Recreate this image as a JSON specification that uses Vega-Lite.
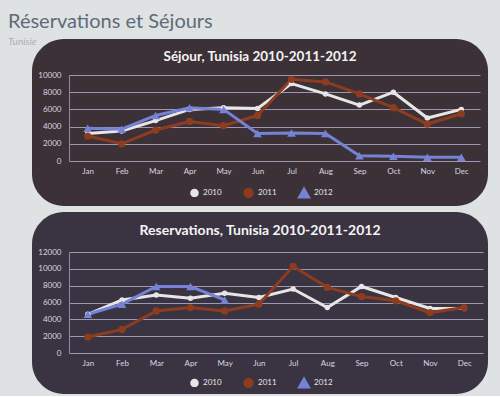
{
  "$schema": "https://vega.github.io/schema/vega-lite/v6.json",
  "background": "#dfe2e2",
  "padding": {"left": 8, "top": 12, "right": 12, "bottom": 2},
  "title": {
    "text": "Réservations et Séjours",
    "subtitle": "Tunisie",
    "anchor": "start",
    "dx": -24,
    "font": "Lato",
    "fontSize": 20,
    "fontWeight": "normal",
    "color": "#5d6b7a",
    "subtitleFont": "Lato",
    "subtitleFontSize": 10,
    "subtitleFontStyle": "italic",
    "subtitleColor": "#a9afb1",
    "subtitlePadding": 5,
    "offset": -8
  },
  "spacing": 6,
  "datasets": {
    "sejour": [
      {"month": "Jan", "year": "2010", "value": 3200}, {"month": "Feb", "year": "2010", "value": 3500},
      {"month": "Mar", "year": "2010", "value": 4700}, {"month": "Apr", "year": "2010", "value": 6000},
      {"month": "May", "year": "2010", "value": 6200}, {"month": "Jun", "year": "2010", "value": 6100},
      {"month": "Jul", "year": "2010", "value": 9000}, {"month": "Aug", "year": "2010", "value": 7800},
      {"month": "Sep", "year": "2010", "value": 6500}, {"month": "Oct", "year": "2010", "value": 8000},
      {"month": "Nov", "year": "2010", "value": 5000}, {"month": "Dec", "year": "2010", "value": 6000},
      {"month": "Jan", "year": "2011", "value": 2900}, {"month": "Feb", "year": "2011", "value": 2000},
      {"month": "Mar", "year": "2011", "value": 3600}, {"month": "Apr", "year": "2011", "value": 4600},
      {"month": "May", "year": "2011", "value": 4100}, {"month": "Jun", "year": "2011", "value": 5300},
      {"month": "Jul", "year": "2011", "value": 9500}, {"month": "Aug", "year": "2011", "value": 9200},
      {"month": "Sep", "year": "2011", "value": 7800}, {"month": "Oct", "year": "2011", "value": 6200},
      {"month": "Nov", "year": "2011", "value": 4300}, {"month": "Dec", "year": "2011", "value": 5500},
      {"month": "Jan", "year": "2012", "value": 3800}, {"month": "Feb", "year": "2012", "value": 3700},
      {"month": "Mar", "year": "2012", "value": 5300}, {"month": "Apr", "year": "2012", "value": 6200},
      {"month": "May", "year": "2012", "value": 6000}, {"month": "Jun", "year": "2012", "value": 3200},
      {"month": "Jul", "year": "2012", "value": 3250}, {"month": "Aug", "year": "2012", "value": 3200},
      {"month": "Sep", "year": "2012", "value": 600}, {"month": "Oct", "year": "2012", "value": 550},
      {"month": "Nov", "year": "2012", "value": 450}, {"month": "Dec", "year": "2012", "value": 450}
    ],
    "reserv": [
      {"month": "Jan", "year": "2010", "value": 4600}, {"month": "Feb", "year": "2010", "value": 6300},
      {"month": "Mar", "year": "2010", "value": 6900}, {"month": "Apr", "year": "2010", "value": 6500},
      {"month": "May", "year": "2010", "value": 7100}, {"month": "Jun", "year": "2010", "value": 6600},
      {"month": "Jul", "year": "2010", "value": 7600}, {"month": "Aug", "year": "2010", "value": 5400},
      {"month": "Sep", "year": "2010", "value": 7900}, {"month": "Oct", "year": "2010", "value": 6600},
      {"month": "Nov", "year": "2010", "value": 5300}, {"month": "Dec", "year": "2010", "value": 5300},
      {"month": "Jan", "year": "2011", "value": 1900}, {"month": "Feb", "year": "2011", "value": 2800},
      {"month": "Mar", "year": "2011", "value": 5000}, {"month": "Apr", "year": "2011", "value": 5400},
      {"month": "May", "year": "2011", "value": 5000}, {"month": "Jun", "year": "2011", "value": 5800},
      {"month": "Jul", "year": "2011", "value": 10300}, {"month": "Aug", "year": "2011", "value": 7800},
      {"month": "Sep", "year": "2011", "value": 6700}, {"month": "Oct", "year": "2011", "value": 6200},
      {"month": "Nov", "year": "2011", "value": 4800}, {"month": "Dec", "year": "2011", "value": 5400},
      {"month": "Jan", "year": "2012", "value": 4600}, {"month": "Feb", "year": "2012", "value": 5800},
      {"month": "Mar", "year": "2012", "value": 7900}, {"month": "Apr", "year": "2012", "value": 7900},
      {"month": "May", "year": "2012", "value": 6300}
    ]
  },
  "resolve": {"scale": {"color": "independent", "shape": "independent", "size": "independent"}, "legend": {"color": "independent"}},
  "vconcat": [
    {
      "width": 456,
      "height": 167,
      "view": {"fill": "#3b3137", "stroke": null, "cornerRadius": 32},
      "title": {"text": "Séjour, Tunisia 2010-2011-2012", "font": "Lato", "fontSize": 13.5, "fontWeight": "bold", "color": "#f4f4f4", "anchor": "middle", "frame": "group", "offset": -24},
      "data": {"name": "sejour"},
      "encoding": {
        "x": {"field": "month", "type": "ordinal", "sort": ["Jan","Feb","Mar","Apr","May","Jun","Jul","Aug","Sep","Oct","Nov","Dec"],
              "scale": {"type": "point", "range": [37, 448], "padding": 0.55},
              "axis": {"title": null, "offset": -45, "domain": false, "ticks": false, "labelPadding": 6, "labelAngle": 0, "labelFont": "Lato", "labelFontSize": 8, "labelColor": "#d8d6e0"}},
        "y": {"field": "value", "type": "quantitative",
              "scale": {"domain": [0, 10000], "range": [122, 36], "nice": false, "zero": true},
              "axis": {"title": null, "offset": -37, "values": [0, 2000, 4000, 6000, 8000, 10000], "format": "d", "ticks": false, "labelPadding": 8, "labelFont": "Lato", "labelFontSize": 8, "labelColor": "#d8d6e0", "domainColor": "#8d89a8", "grid": true, "gridColor": "#b6b2cf", "gridWidth": 1.2, "gridOpacity": 0.8}},
        "color": {"field": "year", "type": "nominal",
                  "scale": {"domain": ["2010", "2011", "2012"], "range": ["#e6e6e6", "#8e3c1f", "#7682d6"]},
                  "legend": {"title": null, "orient": "none", "legendX": 158, "legendY": 148, "direction": "horizontal", "symbolType": "stroke", "symbolStrokeWidth": 3, "symbolSize": 300, "labelColor": "#e6e6e6", "labelFont": "Lato", "labelFontSize": 8, "columnPadding": 16}}
      },
      "layer": [
        {"mark": {"type": "line", "strokeWidth": 3}},
        {"mark": {"type": "point", "filled": true, "opacity": 1},
         "encoding": {
           "shape": {"field": "year", "type": "nominal", "scale": {"domain": ["2010", "2011", "2012"], "range": ["circle", "circle", "triangle-up"]}, "legend": null},
           "size": {"field": "year", "type": "nominal", "scale": {"domain": ["2010", "2011", "2012"], "range": [30, 75, 20]}, "legend": null}
         }}
      ]
    },
    {
      "width": 456,
      "height": 182,
      "view": {"fill": "#3a3341", "stroke": null, "cornerRadius": 32},
      "title": {"text": "Reservations, Tunisia 2010-2011-2012", "font": "Lato", "fontSize": 14, "fontWeight": "bold", "color": "#f4f4f4", "anchor": "middle", "frame": "group", "offset": -26},
      "data": {"name": "reserv"},
      "encoding": {
        "x": {"field": "month", "type": "ordinal", "sort": ["Jan","Feb","Mar","Apr","May","Jun","Jul","Aug","Sep","Oct","Nov","Dec"],
              "scale": {"type": "point", "domain": ["Jan","Feb","Mar","Apr","May","Jun","Jul","Aug","Sep","Oct","Nov","Dec"], "range": [37, 451], "padding": 0.55},
              "axis": {"title": null, "offset": -41, "domain": false, "ticks": false, "labelPadding": 6, "labelAngle": 0, "labelFont": "Lato", "labelFontSize": 8, "labelColor": "#d8d6e0"}},
        "y": {"field": "value", "type": "quantitative",
              "scale": {"domain": [0, 12000], "range": [141, 40], "nice": false, "zero": true},
              "axis": {"title": null, "offset": -37, "values": [0, 2000, 4000, 6000, 8000, 10000, 12000], "format": "d", "ticks": false, "labelPadding": 8, "labelFont": "Lato", "labelFontSize": 8, "labelColor": "#d8d6e0", "domainColor": "#8d89a8", "grid": true, "gridColor": "#b6b2cf", "gridWidth": 1.2, "gridOpacity": 0.8}},
        "color": {"field": "year", "type": "nominal",
                  "scale": {"domain": ["2010", "2011", "2012"], "range": ["#e6e6e6", "#8e3c1f", "#7682d6"]},
                  "legend": {"title": null, "orient": "none", "legendX": 158, "legendY": 165, "direction": "horizontal", "symbolType": "stroke", "symbolStrokeWidth": 3, "symbolSize": 300, "labelColor": "#e6e6e6", "labelFont": "Lato", "labelFontSize": 8, "columnPadding": 16}}
      },
      "layer": [
        {"mark": {"type": "line", "strokeWidth": 3}},
        {"mark": {"type": "point", "filled": true, "opacity": 1},
         "encoding": {
           "shape": {"field": "year", "type": "nominal", "scale": {"domain": ["2010", "2011", "2012"], "range": ["circle", "circle", "triangle-up"]}, "legend": null},
           "size": {"field": "year", "type": "nominal", "scale": {"domain": ["2010", "2011", "2012"], "range": [30, 75, 20]}, "legend": null}
         }}
      ]
    }
  ]
}
